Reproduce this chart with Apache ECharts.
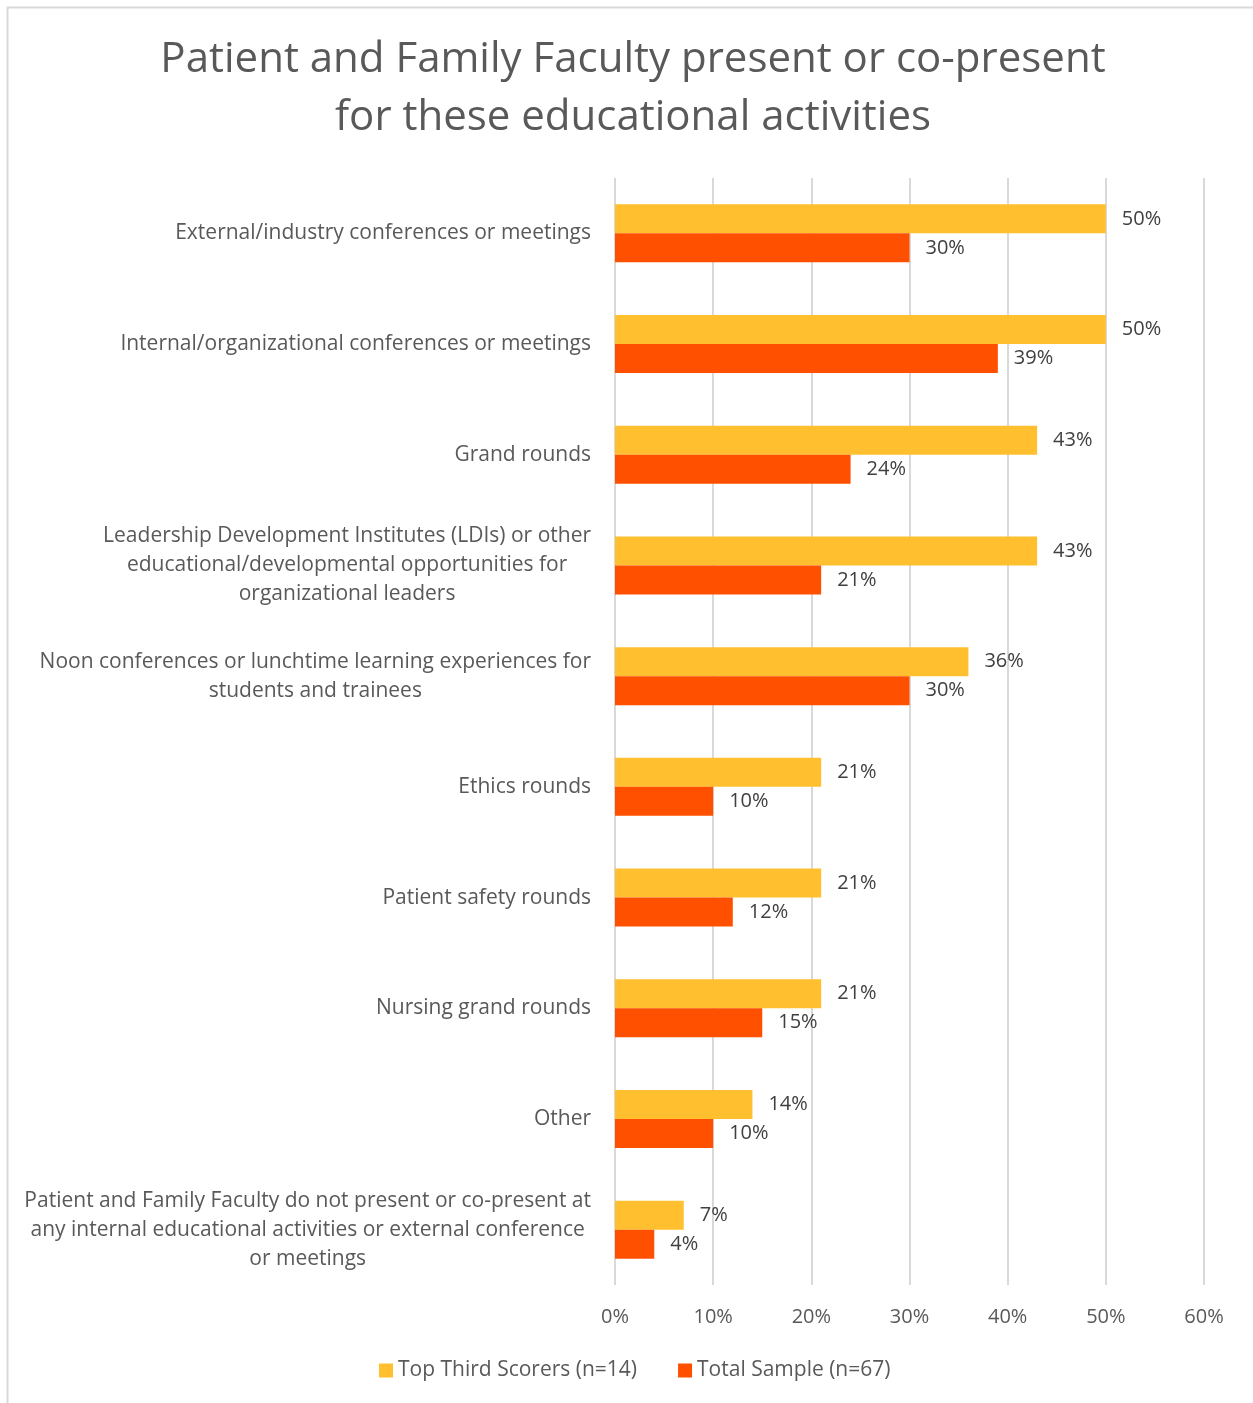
<!DOCTYPE html>
<html>
<head>
<meta charset="utf-8">
<script src="https://cdn.jsdelivr.net/npm/echarts@6/dist/echarts.min.js"></script>
<style>
  html, body { margin: 0; padding: 0; background: #fff; }
  #chart { width: 1253px; height: 1403px; }
</style>
</head>
<body>
<div id="chart"></div>
<script>
// Activities, top to bottom
const categories = [
  'External/industry conferences or meetings',
  'Internal/organizational conferences or meetings',
  'Grand rounds',
  'Leadership Development Institutes (LDIs) or other\neducational/developmental opportunities for\norganizational leaders',
  'Noon conferences or lunchtime learning experiences for\nstudents and trainees',
  'Ethics rounds',
  'Patient safety rounds',
  'Nursing grand rounds',
  'Other',
  'Patient and Family Faculty do not present or co-present at\nany internal educational activities or external conference\nor meetings'
];

// Percent of respondents
const topThird = [50, 50, 43, 43, 36, 21, 21, 21, 14, 7];
const totalSample = [30, 39, 24, 21, 30, 10, 12, 15, 10, 4];

const seriesNames = ['Top Third Scorers (n=14)', 'Total Sample (n=67)'];
const xTicks = [0, 10, 20, 30, 40, 50, 60];

const textColor = '#595959';
const font = '"Open Sans", sans-serif';

const chart = echarts.init(document.getElementById('chart'), null, { renderer: 'canvas' });

const labelStyle = {
  show: true,
  position: 'right',
  distance: 16,
  formatter: p => p.value + '%',
  color: '#404040',
  fontSize: 20,
  fontFamily: font
};

chart.setOption({
  animation: false,
  backgroundColor: '#fff',
  graphic: [{
    type: 'rect',
    shape: { x: 7.5, y: 7.5, width: 1260, height: 1410 },
    style: { fill: 'none', stroke: '#d9d9d9', lineWidth: 2 },
    silent: true
  }],
  title: {
    text: 'Patient and Family Faculty present or co-present\nfor these educational activities',
    left: 628,
    textAlign: 'center',
    top: 26,
    textStyle: {
      color: textColor,
      fontSize: 42,
      fontWeight: 'normal',
      fontFamily: font,
      lineHeight: 58
    }
  },
  legend: {
    data: seriesNames,
    bottom: 17,
    left: 374,
    itemWidth: 14,
    itemHeight: 14,
    itemGap: 41,
    icon: 'rect',
    textStyle: { color: textColor, fontSize: 21, fontFamily: font }
  },
  grid: {
    left: 615,
    right: 49,
    top: 178,
    bottom: 118,
    containLabel: false
  },
  xAxis: {
    type: 'value',
    min: 0,
    max: 60,
    interval: 10,
    axisLine: { show: false },
    axisTick: { show: false },
    splitLine: { show: true, lineStyle: { color: '#d9d9d9', width: 2 } },
    axisLabel: {
      formatter: v => xTicks.includes(v) ? v + '%' : '',
      color: textColor,
      fontSize: 20,
      fontFamily: font,
      margin: 22
    }
  },
  yAxis: {
    type: 'category',
    data: categories,
    inverse: true,
    axisLine: { show: false },
    axisTick: { show: false },
    axisLabel: {
      color: textColor,
      fontSize: 21,
      fontFamily: font,
      lineHeight: 29,
      margin: 24,
      align: 'right',
      // each wrapped line is centred within the right-aligned block
      formatter: v => v.split('\n').map(line => '{c|' + line + '}').join('\n'),
      rich: {
        c: {
          align: 'center',
          color: textColor,
          fontSize: 21,
          fontFamily: font,
          lineHeight: 29
        }
      }
    }
  },
  series: [
    {
      name: seriesNames[0],
      type: 'bar',
      data: topThird,
      barWidth: 29,
      barGap: '0%',
      itemStyle: { color: '#FFBF2F' },
      label: labelStyle
    },
    {
      name: seriesNames[1],
      type: 'bar',
      data: totalSample,
      barWidth: 29,
      barGap: '0%',
      itemStyle: { color: '#FF5000' },
      label: labelStyle
    }
  ]
});
</script>
</body>
</html>
